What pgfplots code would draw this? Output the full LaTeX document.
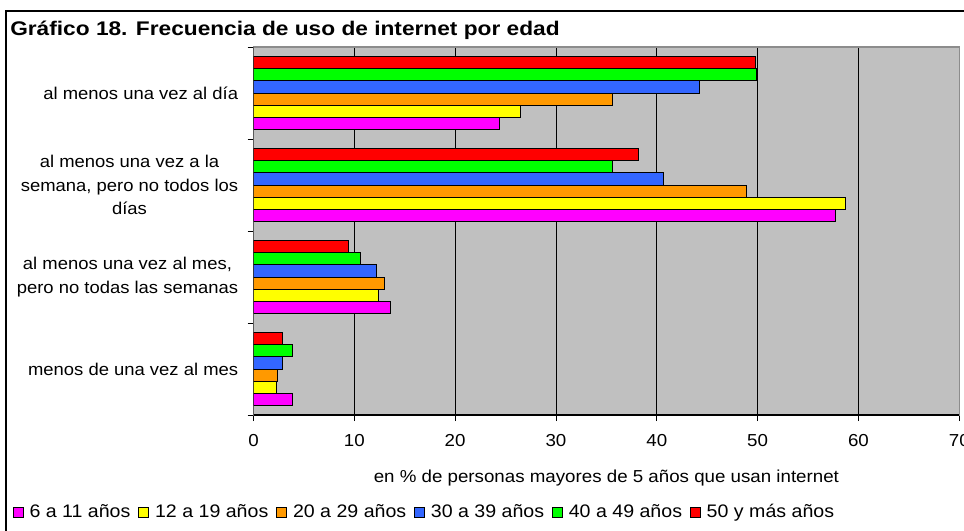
\documentclass[border=0pt]{standalone}
\usepackage{fontspec}
\setmainfont{Liberation Sans}[FakeStretch=1.08]
\usepackage{pgfplots}
\pgfplotsset{compat=1.18}

\definecolor{cMag}{HTML}{FF00FF}
\definecolor{cYel}{HTML}{FFFF00}
\definecolor{cOra}{HTML}{FF9900}
\definecolor{cBlu}{HTML}{3366FF}
\definecolor{cGre}{HTML}{00FF00}
\definecolor{cRed}{HTML}{FF0000}
\definecolor{bgGray}{HTML}{C0C0C0}
\definecolor{frameGray}{HTML}{8C8C8C}

\begin{document}
\begin{tikzpicture}
\useasboundingbox (0pt,0pt) rectangle (723pt,-398.25pt);
\draw[line width=1.2pt] (4.5pt,-400pt) -- (4.5pt,-8.25pt) -- (725pt,-8.25pt);
\node[anchor=base west, font=\bfseries\fontsize{14.8}{17}\selectfont\addfontfeature{FakeStretch=1.15}, inner sep=0pt]
  at (7.5pt,-26.5pt) {Gráfico 18. Frecuencia de uso de internet por edad};
\begin{axis}[
    at={(190.125pt,-311.25pt)}, anchor=south west,
    scale only axis, width=529.35pt, height=276pt,
    xbar=0pt, bar width=9.2pt,
    xmin=0, xmax=70, ymin=0, ymax=4,
    xtick={0,10,...,70},
    ytick={0,1,2,3,4}, yticklabels={},
    extra y ticks={0.5,1.5,2.5,3.5},
    extra y tick labels={menos de una vez al mes,{al menos una vez al mes,\\pero no todas las semanas},{al menos una vez a la\\semana, pero no todos los\\días},al menos una vez al día},
    extra y tick style={major tick length=0pt, yticklabel style={align=center, xshift=-8pt, font=\fontsize{12.8}{17.5}\selectfont}},
    tick align=outside, xtick pos=left, ytick pos=left,
    major tick length=4.5pt,
    tick style={black, line width=0.6pt},
    xmajorgrids, grid style={black, line width=0.6pt},
    axis background/.style={fill=bgGray},
    axis line style={draw=frameGray, line width=0.8pt},
    xticklabel style={font=\fontsize{13}{17}\selectfont, yshift=-6.5pt},
    /pgf/number format/assume math mode=true,
    xlabel={en \% de personas mayores de 5 años que usan internet},
    xlabel style={font=\fontsize{13}{15}\selectfont, at={(axis description cs:0.5,-0.172)}, anchor=center},
    legend style={at={(axis description cs:-0.347,-0.2636)}, anchor=west,
        legend columns=-1, draw=none, fill=none,
        font=\fontsize{13.6}{15}\selectfont,
        /tikz/every odd column/.append style={column sep=2.5pt},
        /tikz/every even column/.append style={column sep=4pt}},
    legend image code/.code={\draw[#1, draw=black, line width=0.6pt] (0pt,-3.7pt) rectangle (7.4pt,3.7pt);},
]
\addplot[fill=cMag, draw=black, line width=0.7pt] coordinates {(24.4,3.5) (57.7,2.5) (13.6,1.5) (3.85,0.5)};
\addlegendentry{6 a 11 años}
\addplot[fill=cYel, draw=black, line width=0.7pt] coordinates {(26.5,3.5) (58.7,2.5) (12.35,1.5) (2.23,0.5)};
\addlegendentry{12 a 19 años}
\addplot[fill=cOra, draw=black, line width=0.7pt] coordinates {(35.6,3.5) (48.9,2.5) (12.95,1.5) (2.33,0.5)};
\addlegendentry{20 a 29 años}
\addplot[fill=cBlu, draw=black, line width=0.7pt] coordinates {(44.2,3.5) (40.7,2.5) (12.2,1.5) (2.83,0.5)};
\addlegendentry{30 a 39 años}
\addplot[fill=cGre, draw=black, line width=0.7pt] coordinates {(49.9,3.5) (35.6,2.5) (10.6,1.5) (3.85,0.5)};
\addlegendentry{40 a 49 años}
\addplot[fill=cRed, draw=black, line width=0.7pt] coordinates {(49.75,3.5) (38.2,2.5) (9.4,1.5) (2.83,0.5)};
\addlegendentry{50 y más años}
\draw[black, line width=0.8pt] (rel axis cs:0,1) -- (rel axis cs:0,0) -- (rel axis cs:1,0);
\end{axis}
\end{tikzpicture}
\end{document}
